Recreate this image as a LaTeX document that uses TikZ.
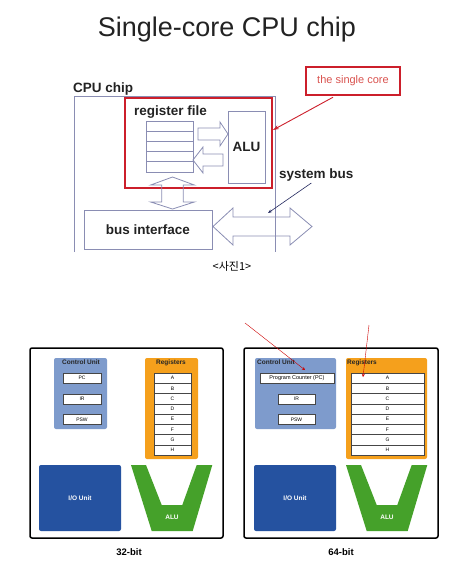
\documentclass[tikz,border=0pt]{standalone}
\usepackage{fontspec}
\setmainfont{Liberation Sans}
\newfontfamily\krfont{Noto Sans CJK KR}
\usetikzlibrary{calc,arrows.meta}

\definecolor{txt}{HTML}{222222}
\definecolor{chipline}{HTML}{8A8DB3}
\definecolor{corered}{HTML}{CC1F2B}
\definecolor{corelbl}{HTML}{D9534F}
\definecolor{navy}{HTML}{23285E}
\definecolor{cublue}{HTML}{7E9BCC}
\definecolor{regorange}{HTML}{F5A01C}
\definecolor{ioblue}{HTML}{2552A0}
\definecolor{alugreen}{HTML}{45A12A}

\begin{document}
\begin{tikzpicture}[x=1pt,y=-1pt,
        every node/.style={inner sep=0pt},
        line/.style={draw=chipline,line width=0.8pt},
        lbl/.style={font=\fontsize{13.5}{15}\selectfont\bfseries,text=txt},
        panel/.style={draw=black,line width=1.5pt,rounded corners=2pt,fill=white},
        cu/.style={fill=cublue,rounded corners=2pt},
        rg/.style={fill=regorange,rounded corners=2pt},
        hd/.style={font=\fontsize{6.5}{7}\selectfont\bfseries,text=black!85},
        cell/.style={draw=gray!55!black,fill=white,line width=0.5pt,minimum height=10pt,font=\fontsize{5}{6}\selectfont},
        wt/.style={text=white,font=\fontsize{6.5}{7}\selectfont\bfseries},
        bit/.style={font=\fontsize{9.5}{11}\selectfont\bfseries},
        ptr/.style={draw=red!80!black,line width=0.4pt,-{Stealth[length=3pt,width=3pt]}}]
        \useasboundingbox (0,0) rectangle (466,568);

        % single core chip
        \node[font=\fontsize{27}{30}\selectfont,text=txt,anchor=base] (title) at (227,36) {Single-core CPU chip};

        \draw[line] (74,252) -- (74,96) -- (275,96) -- (275,252);
        \node[lbl,anchor=base west] (chiplbl) at (73,92) {CPU chip};

        \node[draw=corered,line width=2pt,minimum width=147pt,minimum height=90pt] (core) at (198.5,143) {};
        \node[lbl,anchor=base west] (rflbl) at (134,115) {register file};
        \foreach \i in {1,...,5}
            \node[line,fill=white,minimum width=47pt,minimum height=10.2pt] (rf\i) at (169.5,{121+10.2*(\i-0.5)}) {};
        \node[line,lbl,minimum width=37pt,minimum height=72pt] (alu) at (246.5,147) {ALU};

        \draw[line] (198,128) -- (220,128) -- (220,122) -- (228,134) -- (220,146) -- (220,140) -- (198,140) -- cycle;
        \draw[line] (223,154) -- (203,154) -- (203,147) -- (193,160) -- (203,173) -- (203,166) -- (223,166) -- cycle;
        \draw[line] (161.7,185) -- (150.7,185) -- (172.5,177) -- (194.3,185) -- (183.3,185) -- (183.3,202)
            -- (194.3,202) -- (172.5,209) -- (150.7,202) -- (161.7,202) -- cycle;

        \node[line,lbl,minimum width=128pt,minimum height=39pt] (busif) at (148,229.5) {bus interface};
        \draw[line] (213,226.5) -- (233,208) -- (233,217) -- (290,217) -- (290,208) -- (312,226.5)
            -- (290,245) -- (290,236) -- (233,236) -- (233,245) -- cycle;

        \node[lbl,anchor=base west] (buslbl) at (279,178) {system bus};
        \coordinate (bustip) at (268,213);
        \draw[navy,line width=0.6pt,-{Stealth[length=4pt,width=3pt]}] ($(buslbl.south)+(-5,2)$) -- (bustip);

        \node[draw=corered,line width=2.5pt,minimum width=94pt,minimum height=28pt,
            font=\fontsize{11}{13}\selectfont,text=corelbl] (single) at (353,81) {the single core};
        \coordinate (coretip) at (273,130);
        \draw[corered,line width=0.9pt,-{Stealth[length=6pt,width=4pt]}] ($(single.south)+(-20,1)$) -- (coretip);

        \node[font=\krfont\fontsize{11}{13}\selectfont] (cap) at (232,266) {<사진1>};

        % 32-bit
        \node[panel,minimum width=193pt,minimum height=190pt] (p32) at (126.5,443) {};
        \node[cu,minimum width=53pt,minimum height=71pt] (cu32) at (80.5,393.5) {};
        \node[hd] (cu32lbl) at (81,362.5) {Control Unit};
        \node[cell,minimum width=38pt] (pc32) at (82,378) {PC};
        \node[cell,minimum width=38pt] (ir32) at (82,399) {IR};
        \node[cell,minimum width=38pt] (psw32) at (82,419.5) {PSW};
        \node[rg,minimum width=53pt,minimum height=101pt] (rg32) at (171.5,408.5) {};
        \node[hd] (rg32lbl) at (171,362.5) {Registers};
        \foreach \r [count=\i] in {A,B,C,D,E,F,G,H}
            \node[cell,minimum width=37pt,minimum height=10.25pt] (r32\r) at (172.5,{373+10.25*(\i-0.5)}) {\r};
        \node[fill=ioblue,rounded corners=2pt,minimum width=82pt,minimum height=66pt,wt] (io32) at (80,498) {I/O Unit};
        \fill[alugreen] (131,465) -- (146,465) -- (161.7,505) -- (182.3,505) -- (196.7,465) -- (212.3,465)
            -- (192.7,531) -- (151.7,531) -- cycle;
        \node[wt] (alu32) at (172,517) {ALU};
        \node[bit] (b32) at (129,552) {32-bit};

        % 64-bit
        \node[panel,minimum width=194pt,minimum height=190pt] (p64) at (341,443) {};
        \node[cu,minimum width=81pt,minimum height=71pt] (cu64) at (295.5,393.5) {};
        \node[hd,anchor=west] (cu64lbl) at (257,362.5) {Control Unit};
        \node[cell,minimum width=74pt,font=\fontsize{5.5}{6}\selectfont] (pc64) at (297,378) {Program Counter (PC)};
        \node[cell,minimum width=37pt] (ir64) at (296.5,399) {IR};
        \node[cell,minimum width=37pt] (psw64) at (296.5,419.5) {PSW};
        \node[rg,minimum width=81pt,minimum height=101pt] (rg64) at (386.5,408.5) {};
        \node[hd,anchor=west] (rg64lbl) at (347,362.5) {Registers};
        \foreach \r [count=\i] in {A,B,C,D,E,F,G,H}
            \node[cell,minimum width=73pt,minimum height=10.25pt] (r64\r) at (387.5,{373+10.25*(\i-0.5)}) {\r};
        \node[fill=ioblue,rounded corners=2pt,minimum width=82pt,minimum height=66pt,wt] (io64) at (295,498) {I/O Unit};
        \fill[alugreen] (346,465) -- (361,465) -- (376.7,505) -- (397.3,505) -- (411.7,465) -- (427.3,465)
            -- (407.7,531) -- (366.7,531) -- cycle;
        \node[wt] (alu64) at (387,517) {ALU};
        \node[bit] (b64) at (341,552) {64-bit};

        % pointers
        \coordinate (pcfrom) at (245,323);
        \coordinate (pctip) at (305,370);
        \coordinate (afrom) at (369,325);
        \coordinate (atip) at (363,377);
        \draw[ptr] (pcfrom) -- (pctip);
        \draw[ptr] (afrom) -- (atip);
    \end{tikzpicture}
\end{document}
